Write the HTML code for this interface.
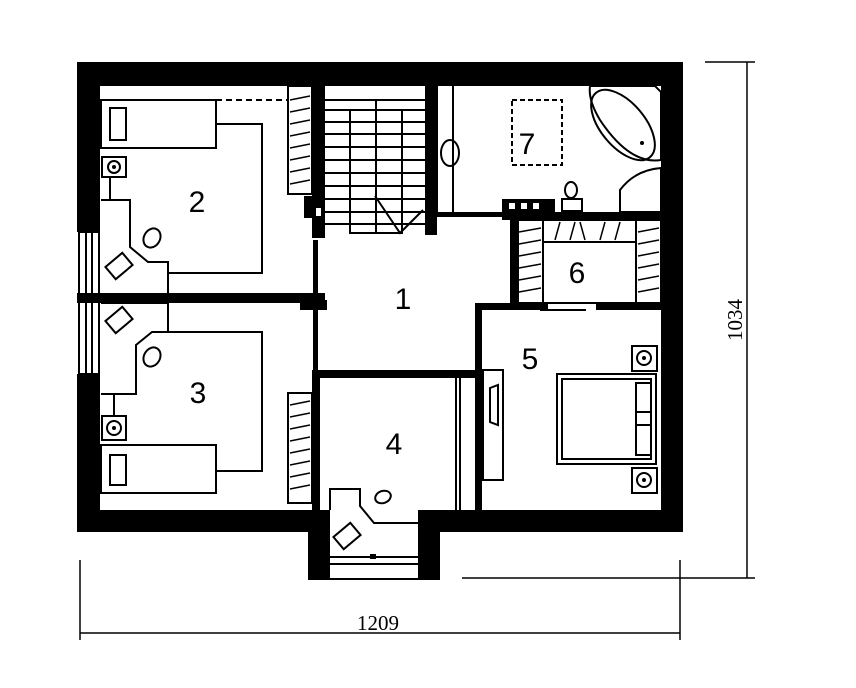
<!DOCTYPE html>
<html><head><meta charset="utf-8"><style>html,body{margin:0;padding:0;background:#fff}svg{display:block}</style></head>
<body>
<svg width="856" height="688" viewBox="0 0 856 688" xmlns="http://www.w3.org/2000/svg">
<g fill="#000">
<rect x="77" y="62" width="606" height="24"/>
<rect x="77" y="62" width="23" height="170"/>
<rect x="77" y="374" width="23" height="158"/>
<rect x="661" y="62" width="22" height="470"/>
<rect x="77" y="510" width="253" height="22"/>
<rect x="418" y="510" width="265" height="22"/>
<rect x="308" y="510" width="22" height="70"/>
<rect x="418" y="510" width="22" height="70"/>
<rect x="312" y="86" width="13" height="152"/>
<rect x="304" y="196" width="10" height="22"/>
<rect x="425" y="86" width="12" height="149"/>
<rect x="77" y="293" width="248" height="10"/>
<rect x="313" y="240" width="5" height="130"/>
<rect x="437" y="212" width="65" height="5"/>
<rect x="502" y="212" width="159" height="8"/>
<rect x="502" y="199" width="53" height="14"/>
<rect x="510" y="218" width="8" height="87"/>
<rect x="476" y="303" width="72" height="7"/>
<rect x="596" y="303" width="65" height="7"/>
<rect x="475" y="303" width="7" height="208"/>
<rect x="312" y="370" width="170" height="8"/>
<rect x="312" y="370" width="8" height="141"/>
<rect x="300" y="300" width="27" height="10"/>
</g>
<g fill="#fff"><rect x="509" y="203" width="6" height="6"/><rect x="521" y="203" width="6" height="6"/><rect x="533" y="203" width="6" height="6"/><rect x="316" y="208" width="5" height="8"/><rect x="320" y="380" width="6" height="6"/><rect x="320" y="392" width="6" height="6"/></g>
<g fill="none" stroke="#000" stroke-width="2">
<rect x="79" y="232" width="20" height="142"/>
<line x1="86" y1="232" x2="86" y2="374"/><line x1="92" y1="232" x2="92" y2="374"/>
<line x1="325" y1="100" x2="425" y2="100"/>
<line x1="325" y1="110" x2="425" y2="110"/><line x1="325" y1="122" x2="425" y2="122"/>
<line x1="325" y1="134" x2="425" y2="134"/><line x1="325" y1="147" x2="425" y2="147"/><line x1="325" y1="160" x2="425" y2="160"/><line x1="325" y1="173" x2="425" y2="173"/><line x1="325" y1="186" x2="425" y2="186"/><line x1="325" y1="199" x2="425" y2="199"/><line x1="325" y1="212" x2="425" y2="212"/><line x1="325" y1="224" x2="425" y2="224"/>
<rect x="350" y="110" width="52" height="123"/>
<line x1="376" y1="100" x2="376" y2="233"/>
<polyline points="375,196 400,233 423,210"/>
<rect x="288" y="86" width="24" height="108"/>
<rect x="288" y="393" width="24" height="110"/>
<rect x="518" y="220" width="25" height="83"/>
<rect x="636" y="220" width="25" height="83"/>
<rect x="543" y="220" width="93" height="22"/>
<rect x="543" y="242" width="93" height="61"/>
<rect x="101" y="100" width="115" height="48"/>
<rect x="110" y="108" width="16" height="32"/>
<line x1="216" y1="100" x2="288" y2="100" stroke-dasharray="6,4"/>
<polyline points="216,124 262,124 262,273 168,273"/>
<rect x="102" y="157" width="24" height="20"/><circle cx="114" cy="167" r="6"/>
<line x1="110" y1="177" x2="110" y2="200"/>
<polyline points="101,200 130,200 130,247 148,262 168,262 168,293"/>
<ellipse cx="152" cy="238" rx="8" ry="10" transform="rotate(30 152 238)"/>
<rect x="108" y="258" width="22" height="16" transform="rotate(-40 119 266)"/>
<polyline points="101,303 168,303 168,332 152,332 136,345 136,394 101,394"/>
<polyline points="168,332 262,332 262,471 216,471"/>
<rect x="102" y="416" width="24" height="24"/><circle cx="114" cy="428" r="7"/>
<line x1="114" y1="394" x2="114" y2="416"/>
<rect x="101" y="445" width="115" height="48"/>
<rect x="110" y="455" width="16" height="30"/>
<ellipse cx="152" cy="357" rx="8" ry="10" transform="rotate(30 152 357)"/>
<rect x="108" y="312" width="22" height="16" transform="rotate(-40 119 320)"/>
<polyline points="330,510 330,489 360,489 360,506 374,523 418,523"/>
<ellipse cx="383" cy="497" rx="8" ry="6" transform="rotate(-20 383 497)"/>
<rect x="336" y="528" width="22" height="16" transform="rotate(-40 347 536)"/>
<line x1="330" y1="557" x2="418" y2="557"/><line x1="330" y1="564" x2="418" y2="564"/><line x1="330" y1="579" x2="418" y2="579"/>
<line x1="456" y1="378" x2="456" y2="511"/><line x1="460" y1="378" x2="460" y2="511"/>
<rect x="483" y="370" width="20" height="110"/>
<polygon points="490,388 498,385 498,425 490,422" />
<rect x="557" y="374" width="99" height="90"/>
<rect x="562" y="379" width="89" height="80"/>
<rect x="636" y="383" width="15" height="72"/>
<line x1="636" y1="412" x2="651" y2="412"/><line x1="636" y1="425" x2="651" y2="425"/>
<rect x="632" y="346" width="25" height="25"/><circle cx="644" cy="358" r="7"/>
<rect x="632" y="468" width="25" height="25"/><circle cx="644" cy="480" r="7"/>
<line x1="540" y1="310" x2="586" y2="310" stroke-width="2"/>
<rect x="512" y="100" width="50" height="65" stroke-dasharray="5,3"/>
<path d="M590 86 L655 86 L661 92 L661 160 Q630 165 600 120 Q588 100 590 86 Z"/>
<ellipse cx="623" cy="125" rx="22" ry="42" transform="rotate(-40 623 125)"/>
<path d="M620 212 L620 190 Q635 170 661 168 L661 212 Z"/>
<ellipse cx="450" cy="153" rx="9" ry="13"/>
<line x1="437" y1="86" x2="437" y2="212"/><line x1="453" y1="86" x2="453" y2="212"/>
<ellipse cx="571" cy="190" rx="6" ry="8"/><rect x="562" y="199" width="20" height="12"/>
</g>
<g fill="#000"><circle cx="642" cy="143" r="2"/><circle cx="114" cy="167" r="2"/><circle cx="114" cy="428" r="2"/><circle cx="644" cy="358" r="2"/><circle cx="644" cy="480" r="2"/><rect x="370" y="554" width="6" height="5"/></g>
<g stroke="#000" stroke-width="1.5">
<line x1="290" y1="100" x2="310" y2="96"/><line x1="290" y1="112" x2="310" y2="108"/><line x1="290" y1="124" x2="310" y2="120"/><line x1="290" y1="136" x2="310" y2="132"/><line x1="290" y1="148" x2="310" y2="144"/><line x1="290" y1="160" x2="310" y2="156"/><line x1="290" y1="172" x2="310" y2="168"/><line x1="290" y1="184" x2="310" y2="180"/>
<line x1="290" y1="405" x2="310" y2="401"/><line x1="290" y1="417" x2="310" y2="413"/><line x1="290" y1="429" x2="310" y2="425"/><line x1="290" y1="441" x2="310" y2="437"/><line x1="290" y1="453" x2="310" y2="449"/><line x1="290" y1="465" x2="310" y2="461"/><line x1="290" y1="477" x2="310" y2="473"/><line x1="290" y1="489" x2="310" y2="485"/>
<line x1="519" y1="232" x2="541" y2="228"/><line x1="519" y1="244" x2="541" y2="240"/><line x1="519" y1="256" x2="541" y2="252"/><line x1="519" y1="268" x2="541" y2="264"/><line x1="519" y1="280" x2="541" y2="276"/><line x1="519" y1="292" x2="541" y2="288"/>
<line x1="638" y1="232" x2="659" y2="228"/><line x1="638" y1="244" x2="659" y2="240"/><line x1="638" y1="256" x2="659" y2="252"/><line x1="638" y1="268" x2="659" y2="264"/><line x1="638" y1="280" x2="659" y2="276"/><line x1="638" y1="292" x2="659" y2="288"/>
<line x1="555" y1="240" x2="560" y2="222"/><line x1="570" y1="240" x2="575" y2="222"/><line x1="585" y1="240" x2="580" y2="222"/><line x1="600" y1="240" x2="605" y2="222"/><line x1="615" y1="240" x2="620" y2="222"/>
</g>
<g stroke="#000" stroke-width="1.5" fill="none">
<line x1="80" y1="560" x2="80" y2="640"/><line x1="680" y1="560" x2="680" y2="640"/>
<line x1="80" y1="633" x2="680" y2="633"/>
<line x1="462" y1="578" x2="755" y2="578"/>
<line x1="705" y1="62" x2="755" y2="62"/>
<line x1="747" y1="62" x2="747" y2="578"/>
</g>
<g font-family="Liberation Sans, sans-serif" font-size="30" fill="#000" text-anchor="middle">
<text x="197" y="212">2</text><text x="403" y="309">1</text><text x="198" y="403">3</text>
<text x="394" y="454">4</text><text x="530" y="369">5</text><text x="577" y="283">6</text><text x="527" y="154">7</text>
</g>
<g font-family="Liberation Serif, serif" font-size="21" fill="#000" text-anchor="middle">
<text x="378" y="630">1209</text>
<text transform="translate(742,320) rotate(-90)">1034</text>
</g>
</svg>
</body></html>
